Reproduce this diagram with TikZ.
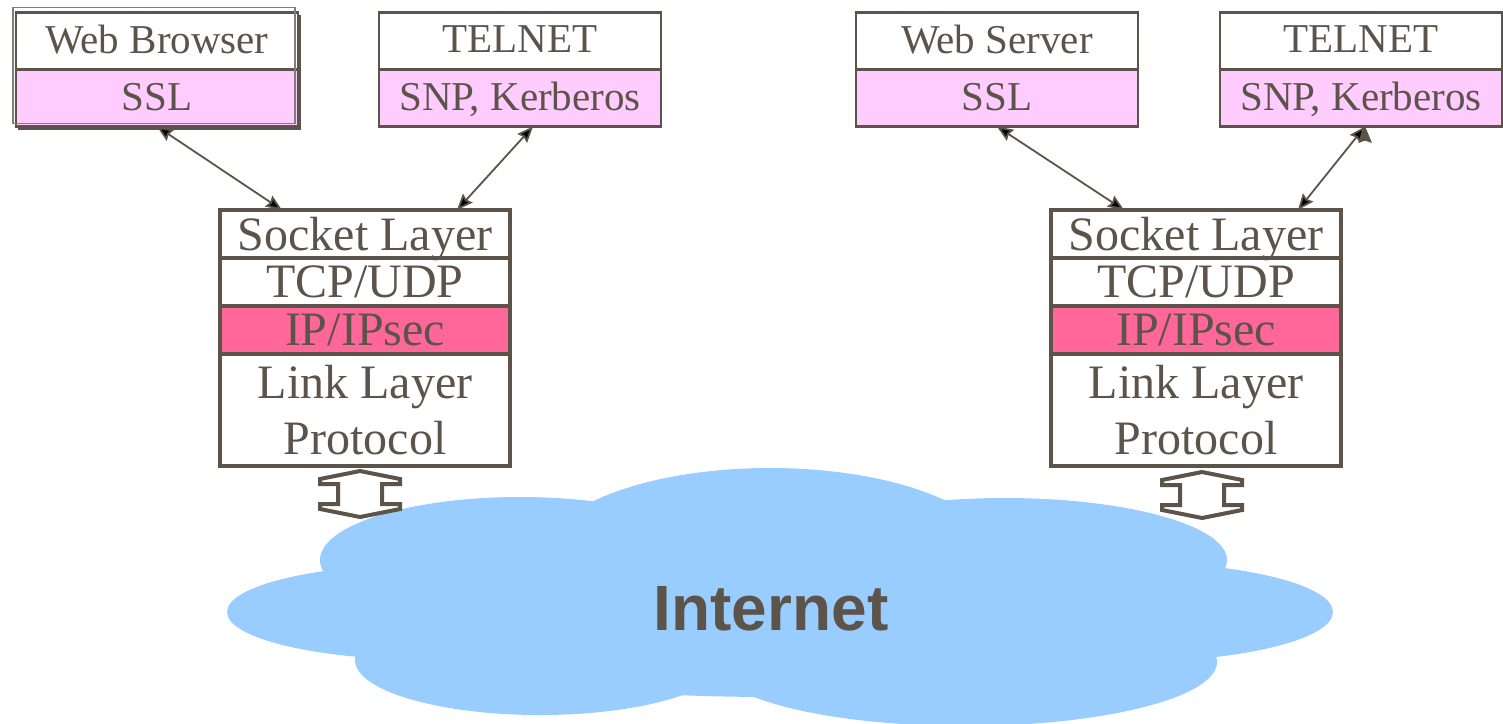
\documentclass[tikz,border=0pt]{standalone}
\usepackage{fontspec}
\setmainfont{Liberation Serif}
\newfontfamily\cloudfont{Liberation Sans}
\usetikzlibrary{positioning,arrows.meta}

\definecolor{ink}{RGB}{92,83,74}
\definecolor{lilac}{RGB}{255,204,255}
\definecolor{rose}{RGB}{255,102,153}
\definecolor{sky}{RGB}{153,204,255}

\begin{document}
\begin{tikzpicture}[x=1pt,y=-1pt,>={Stealth[length=16pt,width=13pt,inset=2pt]},thick,
    app box/.style={draw=ink,line width=2.5pt,minimum width=282pt,minimum height=57pt,inner sep=0pt,outer sep=0pt,text=ink,font=\fontsize{41}{49}\selectfont,text depth=3pt},
    layer/.style={draw=ink,line width=4pt,minimum width=290pt,minimum height=48pt,inner sep=0pt,outer sep=0pt,text=ink,font=\fontsize{48}{56}\selectfont,text depth=0pt},
    conn/.style={<->,draw=ink,line width=1.8pt},
    updown/.style={draw=ink,fill=white,line width=4pt,line join=miter}]
            \useasboundingbox (0,0) rectangle (1503,723);

            % cloud
            \begin{scope}[sky]
                \fill (770,560) ellipse [x radius=230,y radius=92];
                \fill (520,560) ellipse [x radius=200,y radius=63];
                \fill (430,612) ellipse [x radius=203,y radius=48];
                \fill (540,660) ellipse [x radius=185,y radius=55];
                \fill (965,662) ellipse [x radius=252,y radius=64];
                \fill (1125,612) ellipse [x radius=208,y radius=50];
                \fill (1005,560) ellipse [x radius=222,y radius=62];
                \fill (775,612) ellipse [x radius=460,y radius=85];
            \end{scope}
            \node[text=ink,font=\cloudfont\bfseries\fontsize{64}{64}\selectfont] (net) at (771,609) {Internet};

            % hosts, top row
            \node[app box] (web1) at (157,41) {Web Browser};
            \node[app box,fill=lilac,below=0pt of web1] (ssl1) {SSL};
            \draw[ink!75,line width=1.5pt] ([shift={(-3,-5)}]web1.north west) rectangle ([shift={(-3,-3)}]ssl1.south east);
            \draw[ink,line width=2pt] ([shift={(2,2)}]web1.north east) -- ([shift={(2,2)}]ssl1.south east) -- ([shift={(2,2)}]ssl1.south west);
            \node[app box] (tel1) at (520,41) {TELNET};
            \node[app box,fill=lilac,below=0pt of tel1] (snp1) {SNP, Kerberos};
            \node[app box] (web2) at (997,41) {Web Server};
            \node[app box,fill=lilac,below=0pt of web2] (ssl2) {SSL};
            \node[app box] (tel2) at (1361,41) {TELNET};
            \node[app box,fill=lilac,below=0pt of tel2] (snp2) {SNP, Kerberos};

            % stacks
            \node[layer] (sock1) at (365,234) {Socket Layer};
            \node[layer,below=0pt of sock1] (tcp1) {TCP/UDP};
            \node[layer,fill=rose,below=0pt of tcp1] (ip1) {IP/IPsec};
            \node[layer,minimum height=112pt,align=center,below=0pt of ip1] (link1) {Link Layer\\Protocol};
            \node[layer] (sock2) at (1196,234) {Socket Layer};
            \node[layer,below=0pt of sock2] (tcp2) {TCP/UDP};
            \node[layer,fill=rose,below=0pt of tcp2] (ip2) {IP/IPsec};
            \node[layer,minimum height=112pt,align=center,below=0pt of ip2] (link2) {Link Layer\\Protocol};

            \path[conn]
                (ssl1.south) edge ([xshift=-83pt]sock1.north)
                ([xshift=13pt]snp1.south) edge ([xshift=92pt]sock1.north)
                (ssl2.south) edge ([xshift=-72pt]sock2.north)
                ([xshift=4pt]snp2.south) edge ([xshift=102pt]sock2.north)
                ;

            % up/down arrows to the internet
            \foreach \n/\dx/\dy in {1/-5/5,2/6/6}
                \draw[updown] ([xshift=\dx pt,yshift=-\dy pt]link\n.south) -- ++(40,8) -- ++(0,5) -- ++(-18,0) -- ++(0,20) -- ++(18,0) -- ++(0,5)
                    -- ++(-40,8) -- ++(-40,-8) -- ++(0,-5) -- ++(18,0) -- ++(0,-20) -- ++(-18,0) -- ++(0,-5) -- cycle;
        \end{tikzpicture}
\end{document}
